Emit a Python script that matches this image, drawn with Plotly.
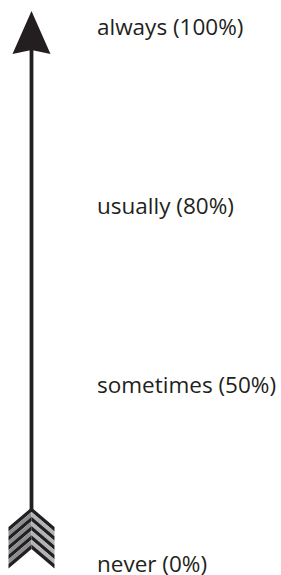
import plotly.graph_objects as go

# Data
words = ["always", "usually", "sometimes", "never"]
percents = [100, 80, 50, 0]
labels = [f"{w} ({p}%)" for w, p in zip(words, percents)]
ranks = [3, 2, 1, 0]  # ordinal position on the scale (equally spaced)

W, H = 281, 575
INK = "#231f20"
GRAY_L = "#8c8e91"
GRAY_R = "#b1b3b6"

def px(x, y):
    return x / W, 1 - y / H

def path(points):
    pts = [px(x, y) for x, y in points]
    return "M " + " L ".join(f"{a:.5f},{b:.5f}" for a, b in pts) + " Z"

shapes = []
# shaft
shapes.append(dict(type="path", xref="paper", yref="paper",
                   path=path([(29.6, 48), (33.4, 48), (33.4, 512), (29.6, 512)]),
                   fillcolor=INK, line=dict(width=0)))
# arrow head
shapes.append(dict(type="path", xref="paper", yref="paper",
                   path=path([(31.5, 11), (50.5, 54), (31.5, 50), (12.5, 54)]),
                   fillcolor=INK, line=dict(width=0)))
# fletching: chevron bands
cx, xl, xr = 31.5, 8.5, 54.5
top_c, top_s = 507.5, 527.0
n = 9
t = 41.5 / n
for i in range(n):
    d0, d1 = i * t, (i + 1) * t
    if i % 2 == 0:
        cl = cr = INK
    else:
        cl, cr = GRAY_L, GRAY_R
    shapes.append(dict(type="path", xref="paper", yref="paper",
                       path=path([(cx, top_c + d0), (cx, top_c + d1), (xl, top_s + d1), (xl, top_s + d0)]),
                       fillcolor=cl, line=dict(width=0)))
    shapes.append(dict(type="path", xref="paper", yref="paper",
                       path=path([(cx, top_c + d0), (xr, top_s + d0), (xr, top_s + d1), (cx, top_c + d1)]),
                       fillcolor=cr, line=dict(width=0)))

fig = go.Figure()
fig.add_trace(go.Scatter(x=[0], y=[0], mode="markers", marker=dict(opacity=0), hoverinfo="skip", showlegend=False))

spacing = 179.0
y0 = -10.0 / spacing
y1 = y0 + H / spacing

annotations = []
for lab, r in zip(labels, ranks):
    annotations.append(dict(x=95, y=r, xref="x", yref="y", text=lab, showarrow=False,
                            xanchor="left", yanchor="middle", yshift=2,
                            font=dict(family="Open Sans", size=22.5, color=INK)))

fig.update_layout(
    width=W, height=H, margin=dict(l=0, r=0, t=0, b=0),
    paper_bgcolor="white", plot_bgcolor="white",
    xaxis=dict(range=[0, W], visible=False, fixedrange=True),
    yaxis=dict(range=[y0, y1], visible=False, fixedrange=True),
    shapes=shapes, annotations=annotations, showlegend=False,
)
fig.write_html("out.html", config={"displayModeBar": False},
               post_script="document.body.style.margin='0';document.body.style.overflow='hidden';")
